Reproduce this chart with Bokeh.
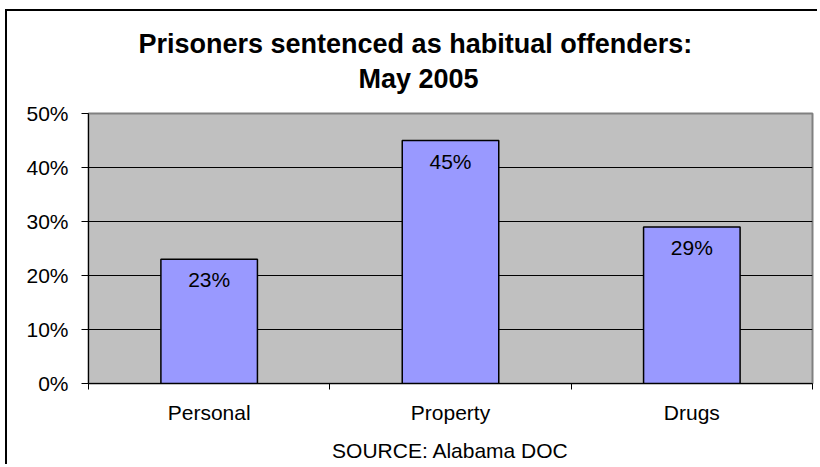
from bokeh.plotting import figure
from bokeh.models import (ColumnDataSource, FixedTicker, NumeralTickFormatter, Range1d, Title)
from bokeh.core.properties import value
from bokeh.embed import file_html
from bokeh.resources import INLINE

# ---- data ----
categories = ["Personal", "Property", "Drugs"]
shares = [0.23, 0.45, 0.29]
share_labels = ["23%", "45%", "29%"]
y_ticks = [0.0, 0.1, 0.2, 0.3, 0.4, 0.5]
title_line1 = "Prisoners sentenced as habitual offenders:"
title_line2 = "May 2005"
source_note = "SOURCE: Alabama DOC"

FONT = "Liberation Sans"

positions = [i + 0.5 for i in range(len(categories))]
src = ColumnDataSource(dict(x=positions, y=shares, lab=share_labels, cat=categories))

p = figure(width=812, height=455, output_backend="svg", toolbar_location=None,
           x_range=Range1d(0, len(categories)), y_range=Range1d(0, 0.5),
           min_border_left=81, min_border_right=7, min_border_top=102, min_border_bottom=83)
p.styles = {"margin-left": "5px", "margin-top": "9px",
            "border-left": "2px solid black", "border-top": "2px solid black"}

p.background_fill_color = "#C0C0C0"
p.border_fill_color = "white"
p.outline_line_color = "#808080"
p.outline_line_width = 2

# titles, stacked upward from the plot area: spacer, line 2, line 1
spacer = Title(text=" ", text_font_size="1px", standoff=14)
t2 = Title(text=title_line2, align="left", offset=270, text_font=FONT,
           text_font_size="27px", text_font_style="bold", text_color="black", standoff=6)
t1 = Title(text=title_line1, align="left", offset=50, text_font=FONT,
           text_font_size="27px", text_font_style="bold", text_color="black", standoff=0)
p.add_layout(spacer, "above")
p.add_layout(t2, "above")
p.add_layout(t1, "above")

p.vbar(x="x", top="y", width=0.4, source=src, fill_color="#9999FF",
       line_color="black", line_width=1.5)
p.text(x="x", y="y", text="lab", source=src, text_align="center", text_baseline="top",
       y_offset=9, text_font=value(FONT), text_font_size="21px", text_color="black")

# y axis
yax = p.yaxis[0]
yax.ticker = FixedTicker(ticks=y_ticks, minor_ticks=[])
yax.formatter = NumeralTickFormatter(format="0%")
yax.axis_line_color = "black"
yax.major_tick_in = 0
yax.major_tick_out = 7
yax.major_tick_line_color = "black"
yax.minor_tick_line_color = None
yax.major_label_standoff = 13
yax.major_label_text_font = FONT
yax.major_label_text_font_size = "21px"
yax.major_label_text_color = "black"

# x axis: labels at category centers, ticks at category boundaries
xax = p.xaxis[0]
xax.ticker = FixedTicker(ticks=positions, minor_ticks=list(range(len(categories) + 1)))
xax.major_label_overrides = {pos: c for pos, c in zip(positions, categories)}
xax.axis_line_color = "black"
xax.major_tick_in = 0
xax.major_tick_out = 0
xax.minor_tick_in = 0
xax.minor_tick_out = 6
xax.minor_tick_line_color = "black"
xax.major_label_standoff = 11
xax.major_label_text_font = FONT
xax.major_label_text_font_size = "21px"
xax.major_label_text_color = "black"
xax.axis_label = source_note
xax.axis_label_text_font = FONT
xax.axis_label_text_font_size = "21px"
xax.axis_label_text_font_style = "normal"
xax.axis_label_text_color = "black"
xax.axis_label_standoff = 12

p.xgrid.grid_line_color = None
p.ygrid.grid_line_color = "black"
p.ygrid.grid_line_width = 1
p.ygrid.ticker = FixedTicker(ticks=y_ticks)

open("out.html", "w").write(file_html(p, INLINE))
